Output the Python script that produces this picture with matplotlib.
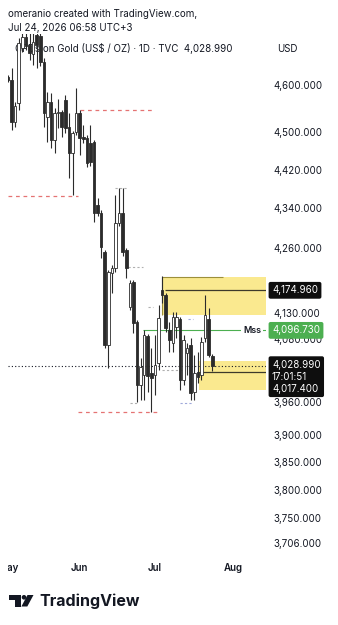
import matplotlib
matplotlib.use("Agg")
import matplotlib.pyplot as plt
import matplotlib.patches as mpatches
import pandas as pd

plt.rcParams['font.family'] = ['Inter', 'DejaVu Sans']

# --- daily candles, CFDs on Gold (TVC), 1 May .. 24 Jul 2026 ---
opens = [4618, 4611, 4521, 4561, 4680, 4705, 4688, 4668, 4710, 4708,
         4651, 4531, 4563, 4482, 4539, 4541, 4568, 4510, 4454, 4499,
         4539, 4489, 4486, 4476, 4478, 4347, 4330, 4251, 4069, 4209,
         4219, 4310, 4330, 4255, 4142, 4191, 4113, 3993, 4011, 4086,
         4015, 4011, 4034, 4175, 4166, 4098, 4072, 4103, 4119, 4002,
         4053, 4069, 3979, 4017.4, 4011, 4082, 4119, 4048]
highs = [4622, 4637, 4563, 4703, 4740, 4745, 4735, 4750, 4760, 4730,
         4659, 4585, 4583, 4550, 4570, 4546, 4578, 4539, 4501, 4593,
         4546, 4514, 4493, 4514, 4482, 4361, 4336, 4255, 4215, 4225,
         4367, 4382, 4382, 4259, 4195, 4195, 4117, 4043, 4098, 4090,
         4063, 4088, 4146, 4203, 4170, 4113, 4132, 4132, 4123, 4088,
         4072, 4082, 4049, 4055, 4084, 4166, 4140, 4051]
lows = [4606, 4503, 4510, 4546, 4672, 4677, 4655, 4644, 4637, 4642,
        4510, 4478, 4465, 4454, 4508, 4489, 4497, 4402, 4367, 4493,
        4450, 4476, 4425, 4427, 4312, 4324, 4239, 4063, 4024, 4170,
        4211, 4304, 4243, 4199, 4136, 4092, 3960, 3964, 3964, 3979,
        3942, 3974, 4021, 4150, 4094, 4055, 4055, 4082, 3983, 3993,
        4011, 3964, 3964, 3997, 4002, 4074, 4046, 4019]
closes = [4610, 4521, 4555, 4692, 4705, 4686, 4670, 4695, 4688, 4651,
          4539, 4563, 4482, 4539, 4541, 4510, 4508, 4454, 4497, 4539,
          4486, 4484, 4433, 4435, 4330, 4330, 4261, 4069, 4211, 4219,
          4310, 4330, 4251, 4219, 4190, 4111, 3993, 4026, 4088, 4009,
          4006, 4030, 4121, 4166, 4101, 4078, 4123, 4123, 4002, 4078,
          4063, 3977, 4015, 4007, 4074, 4127, 4049, 4028.99]

holidays = ['2026-05-25', '2026-06-19', '2026-07-03']
price_ticks = [4600, 4500, 4420, 4340, 4260, 4130, 4080, 3960, 3900, 3850, 3800, 3750, 3706]

# drawn levels: (price, start bar, end bar)
liquidity_lines = [(4366, 0, 19.6), (4546, 20.2, 41.1), (3942, 19.6, 42.5)]
swing_marks = [(4382, 29.9, 33.6), (4221, 33.6, 37.7), (4142, 39.1, 40.5),
               (4021, 43.0, 49.4), (3959, 34.1, 36.1)]
swing_marks_blue = [(4119, 50.3, 51.7), (3959, 48.0, 51.7)]
order_block_top = (43, 4127, 4202, 4174.96)     # start bar, low, high, mid line
order_block_bottom = (53.3, 3983, 4038, 4017.40)
mss_level = (4096.73, 37.7)
last_price = 4028.99
countdown = "17:01:51"

days = pd.bdate_range('2026-05-01', '2026-08-03')
days = days[~days.isin(pd.to_datetime(holidays))]
month_starts = [i for i in range(len(days)) if i == 0 or days[i].month != days[i - 1].month]
month_names = [days[i].strftime('%b') for i in month_starts]

dark = '#2b2b2b'
txt = '#131722'

fig = plt.figure(figsize=(3.38, 6.25), dpi=100)
ax = fig.add_axes([8 / 338, 72 / 625, 258 / 338, 519 / 625])
ov = fig.add_axes([0, 0, 1, 1], zorder=10)
ov.set_xlim(0, 338)
ov.set_ylim(625, 0)
ov.axis('off')
ov.patch.set_alpha(0)

ax.set_yscale('log')
ax.set_ylim(3688, 4712)
ax.set_xlim(0.14, 72.0)

# --- candles ---
x = range(len(opens))
ax.vlines(x, lows, highs, color=dark, lw=0.8, zorder=3)
for i in x:
    o, c = opens[i], closes[i]
    up = c >= o
    h = max(abs(c - o), 1.5)
    ax.bar(i, h, bottom=min(o, c), width=0.7,
           color='white' if up else dark, edgecolor=dark, lw=0.6, zorder=4)

# --- levels and zones ---
for p, a, b in liquidity_lines:
    ax.hlines(p, a, b, color='#e57373', lw=0.9, linestyles=(0, (3, 3)), zorder=2)
for p, a, b in swing_marks:
    ax.hlines(p, a, b, color='#b0b0b0', lw=0.8, linestyles=(0, (2, 2)), zorder=2)
for p, a, b in swing_marks_blue:
    ax.hlines(p, a, b, color='#9fa8da', lw=0.8, linestyles=(0, (2, 2)), zorder=2)

xr = 72.0
s, lo, hi, mid = order_block_top
ax.add_patch(mpatches.Rectangle((s, lo), xr - s, hi - lo, fc='#fae98f', ec='none', zorder=1))
ax.hlines(hi, s, 60, color='#9c8f3a', lw=0.8, zorder=2)
ax.vlines(s, lo, hi, color='#9c8f3a', lw=0.8, zorder=2)
ax.hlines(mid, s + 0.9, xr, color='#3d3a2a', lw=0.9, zorder=2)

s, lo, hi, mid = order_block_bottom
ax.add_patch(mpatches.Rectangle((s, lo), xr - s, hi - lo, fc='#fae98f', ec='none', zorder=1))
ax.hlines(mid, s, xr, color='#3d3a2a', lw=0.9, zorder=2)

ax.hlines(mss_level[0], mss_level[1], xr, color='#4caf50', lw=0.8, zorder=2)
ax.text(68.1, mss_level[0], 'Mss', ha='center', va='center', fontsize=6.5,
        fontweight='semibold', color=txt, zorder=5,
        bbox=dict(boxstyle='square,pad=0.25', fc='white', ec='none'))

ax.hlines(last_price, 0, xr, color=txt, lw=0.8, linestyles=(0, (1, 2)), zorder=2)

# --- axes styling ---
for sp in ax.spines.values():
    sp.set_visible(False)
ax.yaxis.tick_right()
ax.set_yticks(price_ticks)
ax.set_yticklabels([f"{p:,.3f}" for p in price_ticks])
ax.yaxis.set_minor_locator(matplotlib.ticker.NullLocator())
ax.tick_params(axis='y', length=0, pad=5, labelsize=7, labelcolor=txt)
ax.set_xticks(month_starts, month_names)
ax.tick_params(axis='x', length=0, pad=7, labelsize=7, labelcolor=txt)
for t in ax.get_xticklabels():
    t.set_fontweight('semibold')

# price labels on the scale
box_kw = dict(xycoords=('axes fraction', 'data'), textcoords='offset pixels',
              ha='left', va='center', fontsize=7, color='white', zorder=20,
              annotation_clip=False)
ax.annotate(f"{order_block_top[3]:,.3f}", xy=(1, order_block_top[3]), xytext=(6, 0),
            bbox=dict(boxstyle='round,pad=0.35,rounding_size=0.2', fc='#0e0e0e', ec='none'), **box_kw)
ax.annotate(f"{mss_level[0]:,.3f}", xy=(1, mss_level[0]), xytext=(6, 0),
            bbox=dict(boxstyle='round,pad=0.35,rounding_size=0.2', fc='#4caf50', ec='none'), **box_kw)
box_kw['va'] = 'top'
ax.annotate(f"{last_price:,.3f}\n{countdown}\n{order_block_bottom[3]:,.3f}",
            xy=(1, last_price), xytext=(6, 6), linespacing=1.25,
            bbox=dict(boxstyle='round,pad=0.35,rounding_size=0.2', fc='#0e0e0e', ec='none'), **box_kw)

# --- header, legend, logo ---
ov.text(8, 14, "omeranio created with TradingView.com,", fontsize=7, color=txt, va='center')
ov.text(8, 28, "Jul 24, 2026 06:58 UTC+3", fontsize=7, color=txt, va='center')
ax.text(15, 49, "CFDs on Gold (US$ / OZ) \u00b7 1D \u00b7 TVC  4,028.990", transform=ov.transData,
        fontsize=7, color=txt, va='center', zorder=0.5, clip_on=False)
ov.text(277, 49, "USD", fontsize=7, color=txt, va='center')
ov.add_patch(mpatches.Rectangle((0, 556), 8, 20, fc='white', ec='none'))

ov.add_patch(mpatches.Polygon([(9.3, 595), (20.7, 595), (20.7, 606.5), (15, 606.5),
                               (15, 599.5), (9.3, 599.5)], fc='#131722', ec='none'))
ov.add_patch(mpatches.Circle((24, 597.3), 2.3, fc='#131722', ec='none'))
ov.add_patch(mpatches.Polygon([(27.5, 595), (33.5, 595), (27.3, 606.5), (21.4, 606.5)],
                              fc='#131722', ec='none'))
ov.text(39.5, 601, "TradingView", fontsize=11.5, fontweight='bold', color='#131722', va='center')

fig.savefig('out.png', dpi=100)
